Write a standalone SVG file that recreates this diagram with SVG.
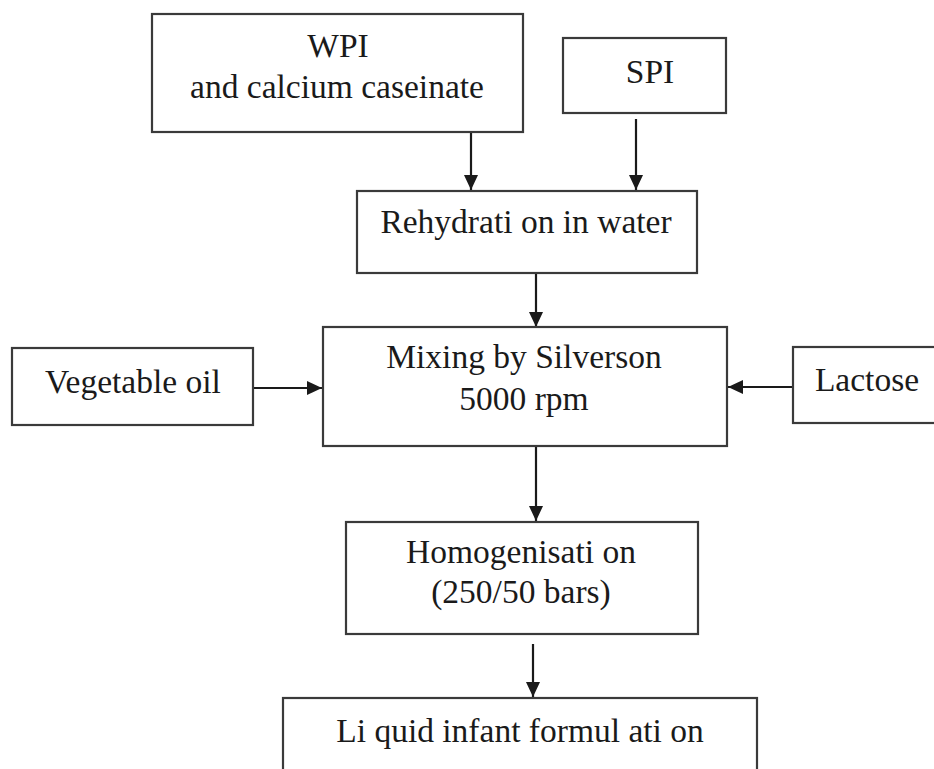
<svg xmlns="http://www.w3.org/2000/svg" width="934" height="769" viewBox="0 0 934 769">
<style>
.box{fill:#fff;stroke:#3a3a3a;stroke-width:2.2}
.t{font-family:"Liberation Serif","Times New Roman",serif;font-size:33.5px;fill:#1a1a1a;text-anchor:middle}
.c{stroke:#1a1a1a;stroke-width:2.2;fill:none;marker-end:url(#ah)}
</style>
<defs>
<marker id="ah" markerWidth="16" markerHeight="16" refX="15" refY="7" orient="auto" markerUnits="userSpaceOnUse">
<path d="M0,0 L15,7 L0,14 Z" fill="#1a1a1a"/>
</marker>
</defs>
<rect width="934" height="769" fill="#fff"/>
<g id="connectors">
<line class="c" x1="471" y1="132" x2="471" y2="190"/>
<line class="c" x1="636" y1="119" x2="636" y2="190"/>
<line class="c" x1="536" y1="273" x2="536" y2="327"/>
<line class="c" x1="254" y1="388" x2="322" y2="388"/>
<line class="c" x1="793" y1="387" x2="728" y2="387"/>
<line class="c" x1="536" y1="446" x2="536" y2="521"/>
<line class="c" x1="533" y1="644" x2="533" y2="697"/>
</g>
<g id="wpi">
<rect class="box" x="152" y="14" width="371" height="118"/>
<text class="t" x="338" y="57">WPI</text>
<text class="t" x="337" y="98">and calcium caseinate</text>
</g>
<g id="spi">
<rect class="box" x="563" y="38" width="163" height="75"/>
<text class="t" x="650" y="83">SPI</text>
</g>
<g id="rehydration">
<rect class="box" x="357" y="191" width="340" height="82"/>
<text class="t" x="526" y="233">Rehydrati on in water</text>
</g>
<g id="mixing">
<rect class="box" x="323" y="327" width="404" height="119"/>
<text class="t" x="524" y="368">Mixing by Silverson</text>
<text class="t" x="524" y="410">5000 rpm</text>
</g>
<g id="vegetable-oil">
<rect class="box" x="12" y="348" width="241" height="77"/>
<text class="t" x="133" y="393">Vegetable oil</text>
</g>
<g id="lactose">
<rect class="box" x="793" y="347" width="150" height="76"/>
<text class="t" x="867" y="391">Lactose</text>
</g>
<g id="homogenisation">
<rect class="box" x="346" y="522" width="352" height="112"/>
<text class="t" x="521" y="563">Homogenisati on</text>
<text class="t" x="521" y="603">(250/50 bars)</text>
</g>
<g id="liquid">
<rect class="box" x="283" y="698" width="474" height="90"/>
<text class="t" x="520" y="742">Li quid infant formul ati on</text>
</g>
</svg>
